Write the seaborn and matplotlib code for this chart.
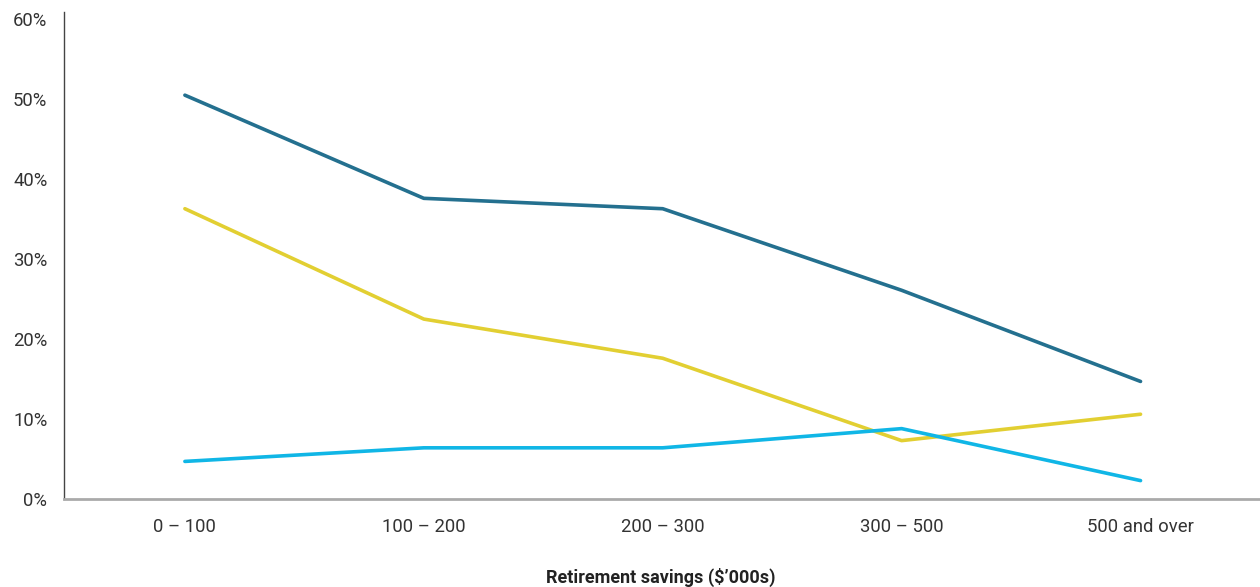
import matplotlib
matplotlib.use("Agg")
import matplotlib.pyplot as plt
import seaborn as sns
import pandas as pd
from matplotlib.ticker import PercentFormatter

categories = ["0 – 100", "100 – 200", "200 – 300", "300 – 500", "500 and over"]
series_dark = [50.5, 37.6, 36.3, 26.1, 14.7]
series_yellow = [36.3, 22.5, 17.6, 7.3, 10.6]
series_light = [4.7, 6.4, 6.4, 8.8, 2.3]
y_ticks = [0, 10, 20, 30, 40, 50, 60]

colors = {"dark": "#24708f", "yellow": "#e2cf32", "light": "#10b6e6"}

df = pd.DataFrame({
    "cat": categories * 3,
    "x": list(range(len(categories))) * 3,
    "value": series_dark + series_yellow + series_light,
    "series": ["dark"] * 5 + ["yellow"] * 5 + ["light"] * 5,
})

sns.set_theme(style="white")
plt.rcParams["font.family"] = ["Roboto", "DejaVu Sans"]

fig = plt.figure(figsize=(12.6, 5.87), dpi=100)
ax = fig.add_axes([64 / 1260, 1 - 499 / 587, 1 - 64 / 1260, (499 - 12) / 587])

sns.lineplot(data=df, x="x", y="value", hue="series", palette=colors,
             linewidth=2.6, legend=False, ax=ax, solid_capstyle="round")

ax.set_xlim(-0.506, 4.5)
ax.set_ylim(0, 60.9)
ax.set_xticks(range(len(categories)))
ax.set_xticklabels(categories)
ax.set_yticks(y_ticks)
ax.yaxis.set_major_formatter(PercentFormatter(decimals=0))
ax.tick_params(axis="both", length=0, labelsize=13.3, colors="#333333")
ax.tick_params(axis="x", pad=14)
ax.tick_params(axis="y", pad=12)
for lbl in ax.get_yticklabels():
    lbl.set_horizontalalignment("right")

ax.spines["top"].set_visible(False)
ax.spines["right"].set_visible(False)
ax.spines["left"].set_color("#444444")
ax.spines["left"].set_linewidth(1.0)
ax.spines["bottom"].set_color("#aaaaaa")
ax.spines["bottom"].set_linewidth(2.0)
ax.set_ylabel("")
ax.set_xlabel("")
fig.text((64 + 1260) / 2 / 1260 - 0.001, 1 - 577 / 587, "Retirement savings ($’000s)",
         fontsize=13, fontweight="bold", color="#222222", ha="center", va="center")

fig.savefig("out.png", dpi=100)
